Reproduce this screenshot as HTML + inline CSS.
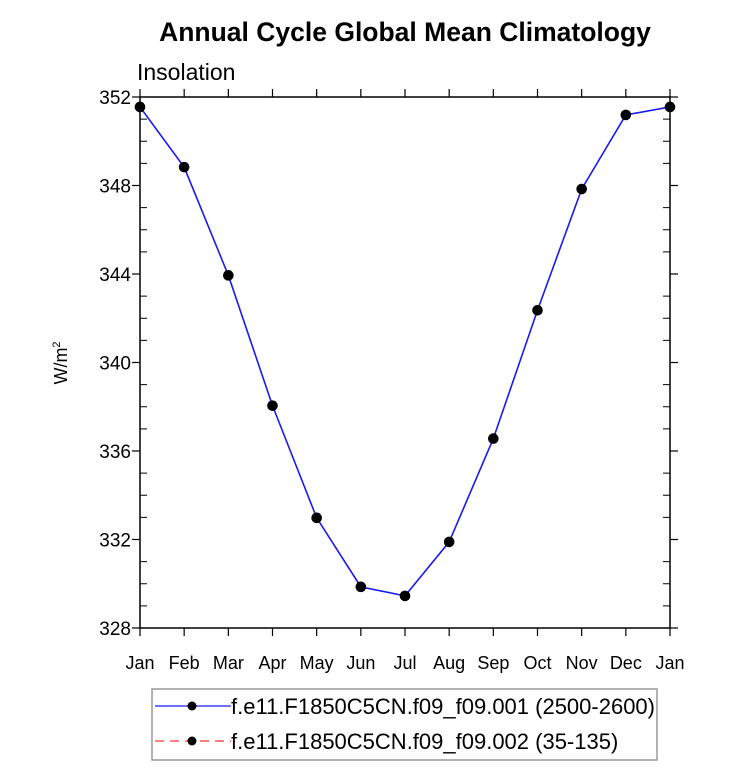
<!DOCTYPE html>
<html><head><meta charset="utf-8"><style>
body{margin:0;background:#fff}
svg{font-family:"Liberation Sans",sans-serif}
</style></head><body>
<svg id="chart" width="733" height="766">
<text x="405" y="41" text-anchor="middle" font-size="26.5" font-weight="bold">Annual Cycle Global Mean Climatology</text>
<text x="137" y="80" font-size="23">Insolation</text>
<text transform="translate(67,363) rotate(-90)" text-anchor="middle" font-size="18">W/m<tspan dy="-7" font-size="11">2</tspan></text>
<g id="axes"></g>
<g id="series"></g>
<g>
<rect x="152" y="689" width="505" height="71" fill="none" stroke="#999" stroke-width="1.5"/>
<g>
<line x1="155" y1="706" x2="231" y2="706" stroke="#1a1aff" stroke-width="1.2"/>
<circle cx="192" cy="706" r="4.5" fill="#000"/>
<text x="231" y="714" font-size="22">f.e11.F1850C5CN.f09_f09.001 (2500-2600)</text></g>
<g>
<line x1="155" y1="741" x2="231" y2="741" stroke="#ff3333" stroke-width="1.2" stroke-dasharray="9,6"/>
<circle cx="192" cy="741" r="4.5" fill="#000"/>
<text x="231" y="749" font-size="22">f.e11.F1850C5CN.f09_f09.002 (35-135)</text></g>
</g>
</svg>
<script>
const months=["Jan","Feb","Mar","Apr","May","Jun","Jul","Aug","Sep","Oct","Nov","Dec","Jan"];
const values=[351.55,348.83,343.94,338.05,332.98,329.86,329.45,331.89,336.56,342.36,347.84,351.19,351.55];
const yTicks=[328,332,336,340,344,348,352];
const L=140,R=670,T=97,B=628,yMin=328,yMax=352;
const xs=i=>L+(R-L)*i/(months.length-1);
const ys=v=>B-(B-T)*(v-yMin)/(yMax-yMin);
const NS="http://www.w3.org/2000/svg";
const ax=document.getElementById('axes'),se=document.getElementById('series');
function mk(p,tag,a){const e=document.createElementNS(NS,tag);for(const k in a)e.setAttribute(k,a[k]);p.appendChild(e);return e;}
const fr=mk(ax,'rect',{x:L,y:T,width:R-L,height:B-T,fill:'none',stroke:'#000','stroke-width':1.5});


months.forEach((m,i)=>{const x=xs(i);
mk(ax,'line',{x1:x,y1:B,x2:x,y2:B+8,stroke:'#000','stroke-width':1.2});
mk(ax,'line',{x1:x,y1:T,x2:x,y2:T-8,stroke:'#000','stroke-width':1.2});
const t=mk(ax,'text',{x:x,y:B+41,'text-anchor':'middle','font-size':18});t.textContent=m;

});
for(let v=yMin;v<=yMax;v++){const y=ys(v);
if(yTicks.includes(v)){
mk(ax,'line',{x1:L-8,y1:y,x2:L,y2:y,stroke:'#000','stroke-width':1.2});
mk(ax,'line',{x1:R,y1:y,x2:R+8,y2:y,stroke:'#000','stroke-width':1.2});
const t=mk(ax,'text',{x:L-9,y:y+7,'text-anchor':'end','font-size':19});t.textContent=v;


}else{
mk(ax,'line',{x1:L,y1:y,x2:L+7,y2:y,stroke:'#000','stroke-width':1});
mk(ax,'line',{x1:R-7,y1:y,x2:R,y2:y,stroke:'#000','stroke-width':1});}}
const ln=mk(se,'polyline',{points:values.map((v,i)=>xs(i)+','+ys(v)).join(' '),fill:'none',stroke:'#1a1aee','stroke-width':1.6});


values.forEach((v,i)=>{const c=mk(se,'circle',{cx:xs(i),cy:ys(v),r:5.3,fill:'#000'});

});
</script>
</body></html>
